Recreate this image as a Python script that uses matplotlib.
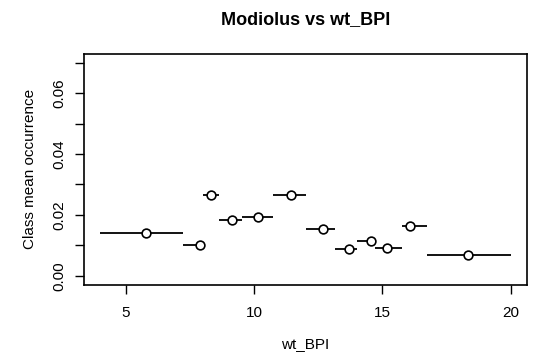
import matplotlib
matplotlib.use("Agg")
import matplotlib.pyplot as plt

plt.rcParams['font.family'] = ['Liberation Sans', 'DejaVu Sans']

# class edges along wt_BPI
edges = [4.0, 7.22, 8.0, 8.64, 9.54, 10.75, 12.0, 13.14, 14.02, 14.70, 15.77, 16.75, 20.0]
# class mean positions
class_x = [5.78, 7.87, 8.32, 9.14, 10.14, 11.43, 12.68, 13.70, 14.54, 15.17, 16.07, 18.34]
# class mean occurrence
class_y = [0.0142, 0.0103, 0.0267, 0.0182, 0.0194, 0.0267, 0.0153, 0.0087, 0.0115, 0.0092, 0.0164, 0.0068]

xticks = [5, 10, 15, 20]
yticks = [0.00, 0.01, 0.02, 0.03, 0.04, 0.05, 0.06, 0.07]
ytick_labels = ["0.00", "", "0.02", "", "0.04", "", "0.06", ""]

W, H = 533, 363
fig = plt.figure(figsize=(W / 100, H / 100), dpi=100)
ax = fig.add_axes([84 / W, 1 - 284.5 / H, (527 - 84) / W, (284.5 - 54) / H])

ax.hlines(class_y, edges[:-1], edges[1:], colors='black', linewidth=1.3)
ax.plot(class_x, class_y, linestyle='none', marker='o', markersize=6.3,
        markerfacecolor='white', markeredgecolor='black', markeredgewidth=1.2)

xmin, xmax = min(edges), max(edges)
dx = (xmax - xmin) * 0.04
ax.set_xlim(xmin - dx, xmax + dx)
ax.set_ylim(0 - 0.07 * 0.04, 0.07 + 0.07 * 0.04)

ax.set_xticks(xticks)
ax.set_xticklabels([str(t) for t in xticks], fontsize=11)
ax.set_yticks(yticks)
ax.set_yticklabels(ytick_labels, fontsize=11, rotation=90, va='center')
ax.tick_params(direction='out', length=6.5, width=1)
ax.tick_params(axis='x', pad=9)
ax.tick_params(axis='y', pad=6)

for s in ax.spines.values():
    s.set_linewidth(1.2)

ax.set_xlabel("wt_BPI", fontsize=11, labelpad=12)
ax.set_ylabel("Class mean occurrence", fontsize=11, labelpad=11)
fig.text((84 + 527) / 2 / W, 1 - 24.5 / H, "Modiolus vs wt_BPI", ha='center', va='baseline',
         fontsize=13, fontweight='bold')

fig.savefig("out.png", dpi=100)
